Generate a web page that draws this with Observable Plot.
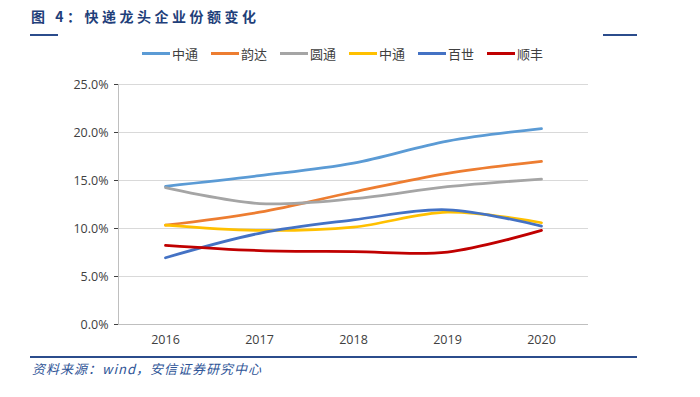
<!DOCTYPE html>
<html><head><meta charset="utf-8">
<script src="https://cdn.jsdelivr.net/npm/d3@7"></script>
<script src="https://cdn.jsdelivr.net/npm/@observablehq/plot@0.6"></script>
<style>
body{margin:0;background:#fff;font-family:"Noto Sans CJK SC","Noto Sans",sans-serif;}
#wrap{position:relative;width:700px;height:397px;overflow:hidden;}
#title{position:absolute;left:31px;top:6px;font-size:14px;font-weight:bold;color:#1F3F7A;letter-spacing:3.5px;white-space:nowrap;}
.hl{position:absolute;height:2px;background:#2B4C8C;}
#legend{position:absolute;top:44px;left:142px;font-size:13px;color:#404040;white-space:nowrap;}
.li{position:absolute;top:0;display:flex;align-items:center;height:18px;}
.sw{width:28px;height:3px;margin-right:2px;}
#chart{position:absolute;left:0;top:62px;}
#src{position:absolute;left:32px;top:359px;font-size:13px;font-style:italic;color:#2F5597;white-space:nowrap;letter-spacing:1px;}
</style></head>
<body><div id="wrap">
<div id="title">图 4：快递龙头企业份额变化</div>
<div class="hl" style="left:30px;top:34px;width:28px;"></div>
<div class="hl" style="left:603px;top:34px;width:34px;"></div>
<div id="legend"></div>
<div id="chart"></div>
<div class="hl" style="left:30px;top:356px;width:607px;"></div>
<div id="src">资料来源：wind，安信证券研究中心</div>
</div>
<script>
const years = [2016, 2017, 2018, 2019, 2020];
const seriesNames = ["中通", "韵达", "圆通", "中通", "百世", "顺丰"];
const seriesColors = ["#5B9BD5", "#ED7D31", "#A5A5A5", "#FFC000", "#4472C4", "#C00000"];
const zto = [14.4, 15.5, 16.8, 19.1, 20.4];
const yunda = [10.35, 11.7, 13.8, 15.75, 17.0];
const yto = [14.25, 12.6, 13.1, 14.35, 15.15];
const sto = [10.35, 9.8, 10.15, 11.7, 10.6];
const best = [6.95, 9.5, 10.9, 11.95, 10.25];
const sf = [8.25, 7.7, 7.6, 7.55, 9.8];
const yTicks = [0, 5, 10, 15, 20, 25];

const allSeries = [zto, yunda, yto, sto, best, sf];
const data = [];
allSeries.forEach((vals, i) => vals.forEach((v, j) => data.push({id: i, year: years[j], value: v})));

// legend
const leg = document.getElementById("legend");
seriesNames.forEach((n, i) => {
  const d = document.createElement("div");
  d.className = "li";
  d.style.left = (i * 69) + "px";
  d.innerHTML = `<span class="sw" style="background:${seriesColors[i]}"></span><span>${n}</span>`;
  leg.appendChild(d);
});

const chart = Plot.plot({
  width: 700,
  height: 288,
  marginTop: 22,
  marginBottom: 26,
  marginLeft: 118,
  marginRight: 112,
  style: {fontFamily: "'Open Sans','Noto Sans',sans-serif", fontSize: "12.5px", color: "#404040"},
  x: {domain: [2015.5, 2020.5], label: null, ticks: years, tickFormat: d => String(d), tickSize: 0, tickPadding: 11},
  y: {domain: [0, 25], label: null, ticks: yTicks, tickFormat: d => d.toFixed(1) + "%", tickSize: 4, tickPadding: 6},
  marks: [
    Plot.ruleY(yTicks, {stroke: "#d9d9d9", strokeWidth: 1}),
    Plot.ruleY([0], {stroke: "#bfbfbf", strokeWidth: 1}),
    Plot.ruleX([2015.5], {stroke: "#bfbfbf", strokeWidth: 1}),
    ...allSeries.map((_, i) => Plot.line(data.filter(d => d.id === i), {
      x: "year", y: "value", stroke: seriesColors[i], strokeWidth: 2.75, curve: "catmull-rom"
    }))
  ]
});
document.getElementById("chart").appendChild(chart);
</script>
</body></html>
